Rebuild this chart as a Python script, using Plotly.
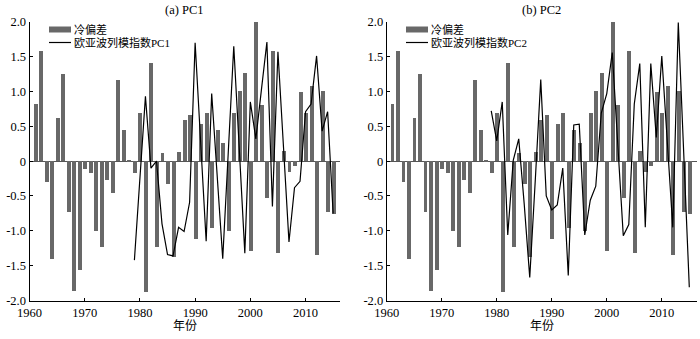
import plotly.graph_objects as go

years = list(range(1961, 2016))
cold_bias = [0.82, 1.59, -0.30, -1.40, 0.62, 1.25, -0.72, -1.86, -1.56, -0.11,
             -0.17, -1.00, -1.23, -0.27, -0.45, 1.17, 0.45, 0.02, -0.17, 0.69,
             -1.87, 1.41, -1.23, 0.12, -0.32, -1.37, 0.14, 0.59, 0.67, -1.11,
             0.53, 0.69, -0.96, 0.45, 0.26, -1.00, 0.69, 1.01, 1.27, -1.29,
             2.00, 0.81, -0.52, 1.59, -1.32, 0.15, -0.15, -0.07, 1.00, 0.70,
             1.08, -1.34, 1.01, -0.72, -0.75]

line_years = list(range(1979, 2016))
pc1 = [-1.42, -0.24, 0.93, -0.10, 0.00, -0.90, -1.34, -1.36, -0.95, -1.01,
       -0.59, 1.70, 0.26, -1.15, 0.97, -0.22, -1.40, 0.12, 1.65, 0.17,
       -1.32, 0.85, 0.32, 1.02, 1.71, -0.65, 1.57, 0.21, -1.16, -0.38,
       -0.29, 0.71, 0.82, 1.51, 0.43, 0.71, -0.75]
pc2 = [0.72, 0.29, 0.85, -1.06, 0.01, 0.32, -0.62, -1.67, -0.28, 1.17,
       -0.50, -0.70, -0.63, -0.10, -1.64, 0.52, 0.53, -1.06, -0.56, -0.36,
       0.69, 0.97, 1.56, 0.26, -1.07, -0.91, 0.82, 1.40, -0.95, 1.40,
       0.34, 1.51, 0.31, -0.95, 1.99, 0.12, -1.81]

titles = ["(a) PC1", "(b) PC2"]
bar_name = "冷偏差"
line_names = ["欧亚波列模指数PC1", "欧亚波列模指数PC2"]
x_title = "年份"
y_ticks = [2.0, 1.5, 1.0, 0.5, 0, -0.5, -1.0, -1.5, -2.0]
y_ticktext = ["2.0", "1.5", "1.0", "0.5", "0", "-0.5", "-1.0", "-1.5", "-2.0"]
x_ticks = [1960, 1970, 1980, 1990, 2000, 2010]

FONT = "Liberation Serif, Noto Sans CJK SC"
BAR_COLOR = "#686868"
W, H = 700, 339

fig = go.Figure()
series = [pc1, pc2]
for i in range(2):
    xa = "x" if i == 0 else "x2"
    ya = "y" if i == 0 else "y2"
    fig.add_trace(go.Bar(x=years, y=cold_bias, name=bar_name,
                         marker=dict(color=BAR_COLOR, line=dict(width=0)),
                         width=0.72, showlegend=False, xaxis=xa, yaxis=ya))
    fig.add_trace(go.Scatter(x=line_years, y=series[i], mode="lines", name=line_names[i],
                             line=dict(color="black", width=1.2), showlegend=False,
                             xaxis=xa, yaxis=ya))

ydom = [1 - 300.5 / H, 1 - 21.8 / H]
xdoms = [[29.5 / W, 339.5 / W], [386.7 / W, 697 / W]]
xranges = [[1960, 2016.15], [1960, 2016.4]]
common_x = dict(tickvals=x_ticks, ticks="inside", ticklen=3, tickcolor="black", automargin=False,
                showline=True, linecolor="black", linewidth=1, showgrid=False, zeroline=False,
                tickfont=dict(family=FONT, size=12.5, color="black"))
common_y = dict(range=[-2, 2], tickvals=y_ticks, ticktext=y_ticktext, ticks="inside", ticklen=3,
                tickcolor="black", showline=True, linecolor="black", linewidth=1, showgrid=False,
                zeroline=True, zerolinecolor="#555555", zerolinewidth=1, automargin=False,
                tickfont=dict(family=FONT, size=12.5, color="black"))

fig.update_layout(
    width=W, height=H, margin=dict(l=0, r=0, t=0, b=0),
    paper_bgcolor="white", plot_bgcolor="white", bargap=0, showlegend=False,
    xaxis=dict(domain=xdoms[0], range=xranges[0], anchor="y", **common_x),
    yaxis=dict(domain=ydom, anchor="x", **common_y),
    xaxis2=dict(domain=xdoms[1], range=xranges[1], anchor="y2", **common_x),
    yaxis2=dict(domain=ydom, anchor="x2", **common_y),
)

# legends drawn as keys (shapes) + real text
legend_left = [49, 406]
for i in range(2):
    x0 = legend_left[i]
    fig.add_shape(type="rect", xref="paper", yref="paper",
                  x0=x0 / W, x1=(x0 + 22) / W, y0=1 - 32.5 / H, y1=1 - 26.5 / H,
                  fillcolor=BAR_COLOR, line=dict(width=0))
    fig.add_shape(type="line", xref="paper", yref="paper",
                  x0=x0 / W, x1=(x0 + 22) / W, y0=1 - 42.5 / H, y1=1 - 42.5 / H,
                  line=dict(color="black", width=1.2))
    fig.add_annotation(text=bar_name, x=(x0 + 23) / W, y=1 - 29.5 / H, xref="paper", yref="paper",
                       xanchor="left", yanchor="middle", showarrow=False,
                       font=dict(family=FONT, size=11, color="black"))
    fig.add_annotation(text=line_names[i], x=(x0 + 23) / W, y=1 - 42.5 / H, xref="paper", yref="paper",
                       xanchor="left", yanchor="middle", showarrow=False,
                       font=dict(family=FONT, size=11, color="black"))

for i, t in enumerate(titles):
    cx = (xdoms[i][0] + xdoms[i][1]) / 2
    fig.add_annotation(text=t, x=cx, y=1 - 9.5 / H, xref="paper", yref="paper",
                       xanchor="center", yanchor="middle", showarrow=False,
                       font=dict(family=FONT, size=12.5, color="black"))
    fig.add_annotation(text=x_title, x=cx, y=1 - 326 / H, xref="paper", yref="paper",
                       xanchor="center", yanchor="middle", showarrow=False,
                       font=dict(family=FONT, size=12, color="black"))

fig.write_html("out.html")
